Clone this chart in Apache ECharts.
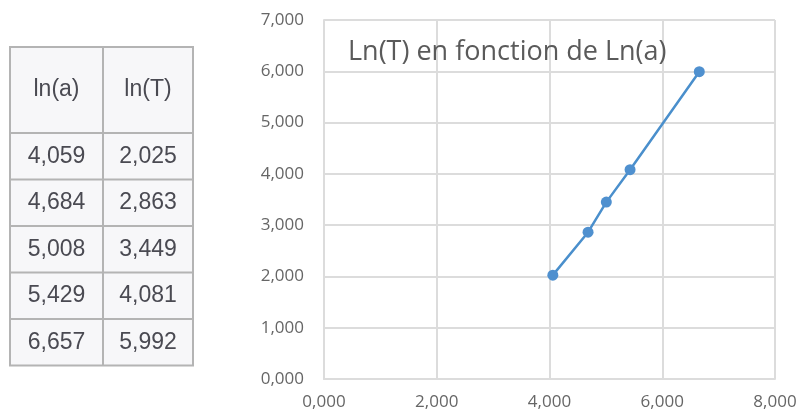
<!DOCTYPE html>
<html>
<head>
<meta charset="utf-8">
<script src="https://cdn.jsdelivr.net/npm/echarts@6/dist/echarts.min.js"></script>
<style>
  html, body { margin: 0; padding: 0; background: #fff; }
  #main { width: 800px; height: 417px; }
</style>
</head>
<body>
<div id="main"></div>
<script>
// values
const headers = ["ln(a)", "ln(T)"];
const lnA = [4.059, 4.684, 5.008, 5.429, 6.657];
const lnT = [2.025, 2.863, 3.449, 4.081, 5.992];
const xTicks = [0, 2, 4, 6, 8];
const yTicks = [0, 1, 2, 3, 4, 5, 6, 7];
const title = "Ln(T) en fonction de Ln(a)";

const fmt = (v) => v.toFixed(3).replace(".", ",");

// table on the left, drawn as graphic elements
const tbl = { left: 10, top: 47, colW: [93, 90], headH: 86, rowH: 46.5 };
const tableGraphic = [];
const tblW = tbl.colW[0] + tbl.colW[1];
const tblH = tbl.headH + tbl.rowH * lnA.length;
tableGraphic.push({
  type: "rect",
  shape: { x: tbl.left, y: tbl.top, width: tblW, height: tblH },
  style: { fill: "#f7f7f9", stroke: "#b4b4b4", lineWidth: 2 }
});
// column divider
tableGraphic.push({
  type: "line",
  shape: { x1: tbl.left + tbl.colW[0], y1: tbl.top, x2: tbl.left + tbl.colW[0], y2: tbl.top + tblH },
  style: { stroke: "#b4b4b4", lineWidth: 2 }
});
const rowsData = [headers].concat(lnA.map((a, i) => [fmt(a), fmt(lnT[i])]));
let y = tbl.top;
rowsData.forEach((row, r) => {
  const h = r === 0 ? tbl.headH : tbl.rowH;
  if (r > 0) {
    tableGraphic.push({
      type: "line",
      shape: { x1: tbl.left, y1: y, x2: tbl.left + tblW, y2: y },
      style: { stroke: "#b4b4b4", lineWidth: 2 }
    });
  }
  let x = tbl.left;
  row.forEach((cell, c) => {
    tableGraphic.push({
      type: "text",
      x: x + tbl.colW[c] / 2,
      y: y + h / 2,
      style: {
        text: cell,
        font: "23px 'Liberation Sans', Arial, sans-serif",
        fill: "#4a4a52",
        align: "center",
        verticalAlign: "middle"
      }
    });
    x += tbl.colW[c];
  });
  y += h;
});

const chart = echarts.init(document.getElementById("main"), null, { renderer: "canvas" });
chart.setOption({
  animation: false,
  title: {
    text: title,
    left: 343,
    top: 34,
    textStyle: { fontFamily: "Open Sans", fontSize: 27, fontWeight: "normal", color: "#5a5a5a" }
  },
  grid: { left: 324, right: 25, top: 20, bottom: 38 },
  xAxis: {
    type: "value",
    min: xTicks[0],
    max: xTicks[xTicks.length - 1],
    interval: xTicks[1] - xTicks[0],
    axisLine: { show: true, lineStyle: { color: "#dcdcdc", width: 2 } },
    axisTick: { show: false },
    splitLine: { show: true, lineStyle: { color: "#dcdcdc", width: 2 } },
    axisLabel: { margin: 15, fontFamily: "Open Sans", fontSize: 17, color: "#666", formatter: fmt }
  },
  yAxis: {
    type: "value",
    min: yTicks[0],
    max: yTicks[yTicks.length - 1],
    interval: yTicks[1] - yTicks[0],
    axisLine: { show: true, lineStyle: { color: "#dcdcdc", width: 2 } },
    axisTick: { show: false },
    splitLine: { show: true, lineStyle: { color: "#dcdcdc", width: 2 } },
    axisLabel: { margin: 20, fontFamily: "Open Sans", fontSize: 17, color: "#666", formatter: fmt }
  },
  series: [{
    type: "line",
    data: lnA.map((a, i) => [a, lnT[i]]),
    symbol: "circle",
    symbolSize: 11,
    lineStyle: { color: "#4a8fcc", width: 2.5 },
    itemStyle: { color: "#4f90cf" }
  }],
  graphic: tableGraphic
});
</script>
</body>
</html>
